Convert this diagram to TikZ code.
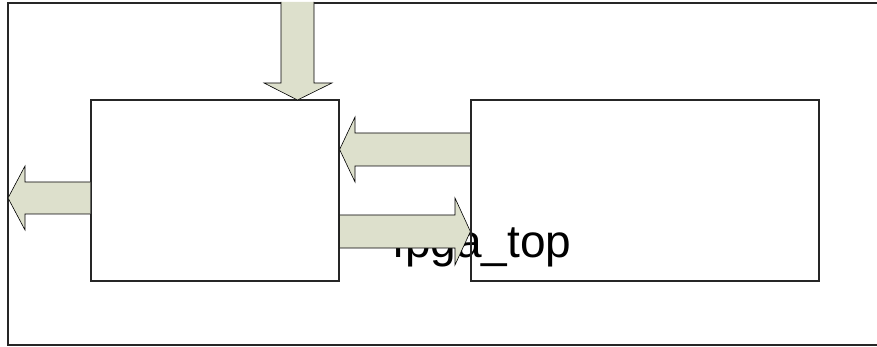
\documentclass[tikz,border=0pt]{standalone}
\usepackage{fontspec}
\setmainfont{Liberation Sans}
\begin{document}
\begin{tikzpicture}[x=1pt,y=-1pt,
  frame/.style={draw=black!85,line width=1.3pt},
  box/.style={draw=black!85,line width=1.2pt,minimum width=248pt,minimum height=181pt,inner sep=0pt},
  blockarrow/.style={draw=black,line width=0.6pt,fill=arrowfill,line join=miter}]
\definecolor{arrowfill}{RGB}{221,224,204}
\useasboundingbox (0,0) rectangle (877,347);
\draw[frame] (890,3) -- (8,3) -- (8,345) -- (890,345);
\node[font=\fontsize{46}{50}\selectfont,anchor=base,inner sep=0pt] (lbl) at (482,258) {fpga\_top};
\node[box,minimum width=248pt] (L) at (215,190.5) {};
\node[box,minimum width=348pt] (R) at (645,190.5) {};
% top input arrow
\coordinate (topin) at (297.5,2);
\draw[blockarrow] (281,2) -- (281,83) -- (264,83) -- (297.5,100) -- (332,83) -- (314,83) -- (314,2);
% R -> L arrow
\draw[blockarrow] (R.west |- 0,133) -- (355,133) -- (355,117) -- (L.east |- 0,149.5) -- (355,182) -- (355,166) -- (R.west |- 0,166);
% L -> R arrow
\draw[blockarrow] (L.east |- 0,215) -- (455,215) -- (455,198) -- (R.west |- 0,231.5) -- (455,265) -- (455,248) -- (L.east |- 0,248) -- cycle;
% L -> outside arrow
\draw[blockarrow] (L.west |- 0,182) -- (25,182) -- (25,166) -- (8,198) -- (25,230) -- (25,214) -- (L.west |- 0,214);
\draw[draw=black!85,line width=1.2pt] (R.north west) -- (R.south west);
\end{tikzpicture}
\end{document}
